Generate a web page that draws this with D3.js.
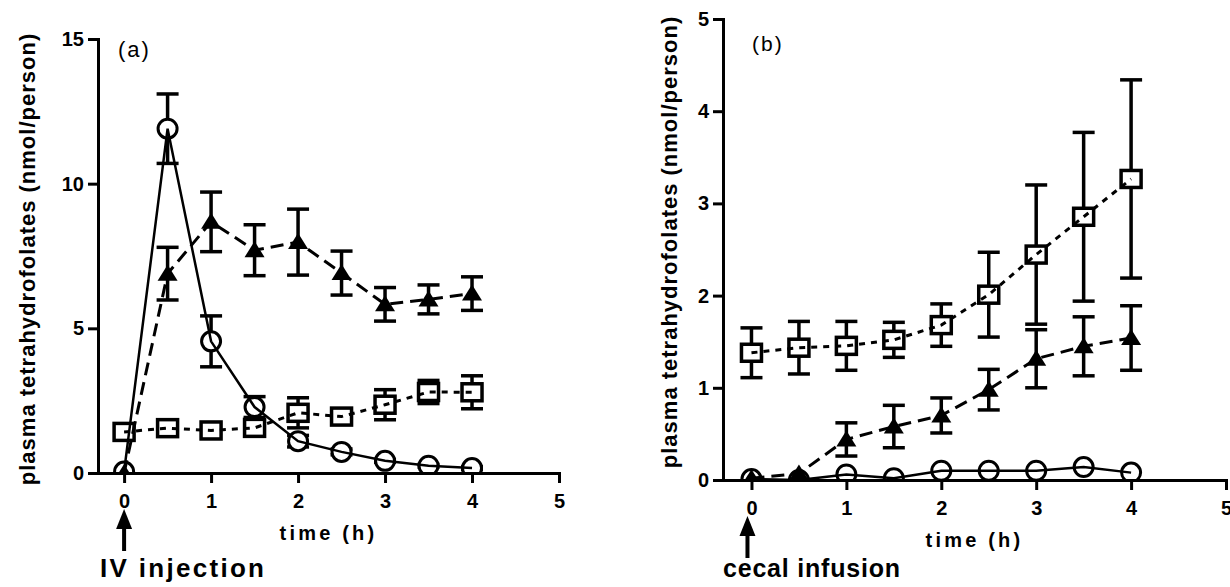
<!DOCTYPE html>
<html>
<head>
<meta charset="utf-8">
<script src="https://cdn.jsdelivr.net/npm/d3@7"></script>
<style>
  body { margin: 0; background: #fff; }
  svg { display: block; }
  text { font-family: "Liberation Sans", Arial, sans-serif; fill: #000; }
</style>
</head>
<body>
<script>
// sampling times (h)
var times = [0, 0.5, 1, 1.5, 2, 2.5, 3, 3.5, 4]
var xTicks = [0, 1, 2, 3, 4, 5]

// panel (a) IV injection
var yTicksA = [0, 5, 10, 15]
var circleA = [0.05, 11.9, 4.55, 2.28, 1.1, 0.73, 0.42, 0.25, 0.17]
var circleErrA = [0, 1.2, 0.88, 0.36, 0.2, 0.1, 0.05, 0.05, 0.05]
var triA = [0, 6.89, 8.68, 7.7, 7.98, 6.91, 5.83, 6.0, 6.2]
var triErrA = [0, 0.91, 1.03, 0.88, 1.14, 0.76, 0.58, 0.5, 0.58]
var sqA = [1.42, 1.55, 1.47, 1.56, 2.08, 1.95, 2.36, 2.8, 2.79]
var sqErrA = [0.1, 0.1, 0.1, 0.1, 0.52, 0.1, 0.52, 0.4, 0.57]

// panel (b) cecal infusion
var yTicksB = [0, 1, 2, 3, 4, 5]
var circleB = [0.01, 0.0, 0.06, 0.02, 0.1, 0.1, 0.1, 0.14, 0.08]
var circleErrB = [0, 0, 0, 0, 0, 0, 0, 0, 0]
var triB = [0.02, 0.07, 0.44, 0.58, 0.7, 0.98, 1.315, 1.45, 1.54]
var triErrB = [0, 0, 0.18, 0.23, 0.19, 0.22, 0.315, 0.32, 0.35]
var sqB = [1.38, 1.435, 1.455, 1.52, 1.68, 2.01, 2.445, 2.855, 3.265]
var sqErrB = [0.27, 0.285, 0.265, 0.19, 0.23, 0.46, 0.755, 0.915, 1.075]

var svg = d3.select("body").append("svg")
	.attr("width", 1230)
	.attr("height", 587)

function drawPanel(p) {
	var x = d3.scaleLinear().domain([-0.3, 5]).range([p.left, p.right])
	var y = d3.scaleLinear().domain([0, p.yMax]).range([p.bottom, p.top])
	var g = svg.append("g")

	// clip marks at the x axis
	g.append("clipPath").attr("id", p.id + "clip")
		.append("rect")
		.attr("x", p.left).attr("y", p.top - 20)
		.attr("width", p.right - p.left + 20).attr("height", p.bottom - p.top + 20)
	var plot = g.append("g").attr("clip-path", "url(#" + p.id + "clip)")

	var series = {
		sq: { vals: p.sq, err: p.sqErr, shape: "square", dash: "6,6", width: 3 },
		tri: { vals: p.tri, err: p.triErr, shape: "triangle", dash: "13,7", width: 3 },
		circle: { vals: p.circle, err: p.circleErr, shape: "circle", dash: null, width: 2.5 }
	}
	var order = [series.sq, series.circle, series.tri]

	// error bars first
	order.forEach(function(s) {
		var pts = times.map(function(t, i) { return { t: t, v: s.vals[i], e: s.err[i] } })
			.filter(function(d) { return d.e > 0 })
		var eb = plot.append("g").attr("stroke", "#000").attr("stroke-width", 3.5)
		eb.selectAll("line.v").data(pts).enter().append("line")
			.attr("x1", function(d) { return x(d.t) }).attr("x2", function(d) { return x(d.t) })
			.attr("y1", function(d) { return y(d.v + d.e) }).attr("y2", function(d) { return y(d.v - d.e) })
		eb.selectAll("line.top").data(pts).enter().append("line")
			.attr("x1", function(d) { return x(d.t) - 11 }).attr("x2", function(d) { return x(d.t) + 11 })
			.attr("y1", function(d) { return y(d.v + d.e) }).attr("y2", function(d) { return y(d.v + d.e) })
		eb.selectAll("line.bot").data(pts).enter().append("line")
			.attr("x1", function(d) { return x(d.t) - 11 }).attr("x2", function(d) { return x(d.t) + 11 })
			.attr("y1", function(d) { return y(d.v - d.e) }).attr("y2", function(d) { return y(d.v - d.e) })
	})

	// markers: squares, then circles, triangles on top
	order.forEach(function(s) {
		var m = plot.append("g")
		var pts = times.map(function(t, i) { return { t: t, v: s.vals[i] } })
		if (s.shape == "circle") {
			m.selectAll("circle").data(pts).enter().append("circle")
				.attr("cx", function(d) { return x(d.t) }).attr("cy", function(d) { return y(d.v) })
				.attr("r", 9.5).attr("fill", "#fff").attr("stroke", "#000").attr("stroke-width", 3)
		} else if (s.shape == "square") {
			m.selectAll("rect").data(pts).enter().append("rect")
				.attr("x", function(d) { return x(d.t) - 10 }).attr("y", function(d) { return y(d.v) - 8.5 })
				.attr("width", 20).attr("height", 17)
				.attr("fill", "#fff").attr("stroke", "#000").attr("stroke-width", 3.5)
		} else {
			m.selectAll("path").data(pts).enter().append("path")
				.attr("transform", function(d) { return "translate(" + x(d.t) + "," + y(d.v) + ")" })
				.attr("d", "M0,-9L10,7L-10,7Z").attr("fill", "#000")
		}
	})

	// connecting lines on top
	order.forEach(function(s) {
		var line = d3.line().x(function(d, i) { return x(times[i]) }).y(function(d) { return y(d) })
		plot.append("path").datum(s.vals)
			.attr("d", line).attr("fill", "none").attr("stroke", "#000")
			.attr("stroke-width", s.width)
			.attr("stroke-dasharray", s.dash)
	})

	// axes
	var yAxis = g.append("g").attr("transform", "translate(" + p.left + ",0)")
		.call(d3.axisLeft(y).tickValues(p.yTicks).tickFormat(d3.format("d"))
			.tickSize(10).tickSizeOuter(0).tickPadding(4))
	var xAxis = g.append("g").attr("transform", "translate(0," + p.bottom + ")")
		.call(d3.axisBottom(x).tickValues(xTicks).tickFormat(d3.format("d"))
			.tickSize(10).tickSizeOuter(0).tickPadding(11))
	;[xAxis, yAxis].forEach(function(a) {
		a.select(".domain").attr("stroke-width", 3).attr("stroke-linecap", "square")
		a.selectAll(".tick line").attr("stroke-width", 3)
		a.selectAll(".tick text")
			.style("font-size", "20px").style("font-weight", "bold")
			.style("font-family", "'Liberation Sans', Arial, sans-serif")
	})

	// labels
	g.append("text")
		.attr("transform", "translate(" + p.yLabelX + "," + p.yLabelY + ") rotate(-90)")
		.attr("text-anchor", "middle").style("font-size", "22px").style("font-weight", "bold")
		.attr("letter-spacing", 1)
		.text("plasma tetrahydrofolates (nmol/person)")
	g.append("text")
		.attr("x", (p.left + p.right) / 2).attr("y", p.bottom + 67)
		.attr("text-anchor", "middle").style("font-size", "20px").style("font-weight", "bold")
		.attr("letter-spacing", 3.2)
		.text("time (h)")
	g.append("text")
		.attr("x", p.tagX).attr("y", p.tagY)
		.style("font-size", p.tagSize + "px").attr("letter-spacing", 2)
		.text(p.tag)

	// arrow marking dosing
	var ax = x(0) + p.arrowDx
	g.append("line").attr("x1", ax).attr("x2", ax)
		.attr("y1", p.bottom + 52).attr("y2", p.bottom + 78)
		.attr("stroke", "#000").attr("stroke-width", 4)
	g.append("path")
		.attr("d", "M" + ax + "," + (p.bottom + 36) + "L" + (ax + 8) + "," + (p.bottom + 56) + "L" + (ax - 8) + "," + (p.bottom + 56) + "Z")
		.attr("fill", "#000")
	g.append("text")
		.attr("x", p.eventX).attr("y", 577)
		.style("font-size", p.eventSize + "px").style("font-weight", "bold")
		.attr("letter-spacing", p.eventSpacing)
		.text(p.event)
}

drawPanel({
	id: "a", left: 98, right: 559, top: 39, bottom: 473, yMax: 15, yTicks: yTicksA,
	circle: circleA, circleErr: circleErrA, tri: triA, triErr: triErrA, sq: sqA, sqErr: sqErrA,
	yLabelX: 35, yLabelY: 259, tag: "(a)", tagX: 118, tagY: 57, tagSize: 22,
	arrowDx: 0, event: "IV injection", eventX: 100, eventSize: 26, eventSpacing: 2.3
})

drawPanel({
	id: "b", left: 723, right: 1226, top: 19, bottom: 480, yMax: 5, yTicks: yTicksB,
	circle: circleB, circleErr: circleErrB, tri: triB, triErr: triErrB, sq: sqB, sqErr: sqErrB,
	yLabelX: 677, yLabelY: 242, tag: "(b)", tagX: 752, tagY: 51, tagSize: 21,
	arrowDx: -4, event: "cecal infusion", eventX: 723, eventSize: 25, eventSpacing: 0.8
})
</script>
</body>
</html>
